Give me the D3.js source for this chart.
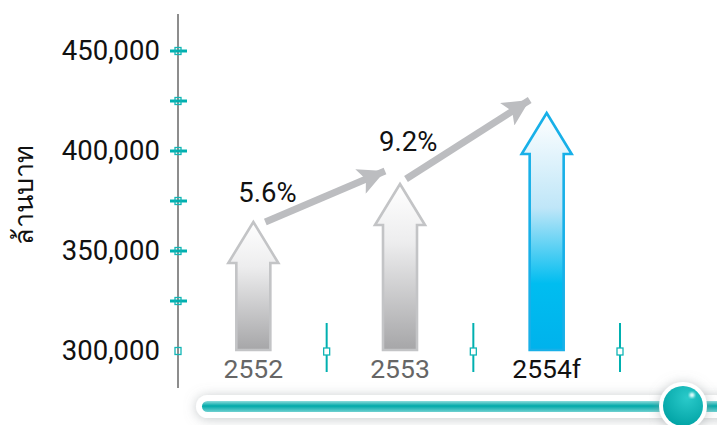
<!DOCTYPE html>
<html>
<head>
<meta charset="utf-8">
<script src="https://cdn.jsdelivr.net/npm/d3@7/dist/d3.min.js"></script>
<style>
  html, body { margin: 0; padding: 0; background: #ffffff; }
  svg { display: block; }
  text { font-family: Roboto, "Noto Sans", "DejaVu Sans", sans-serif; }
</style>
</head>
<body>
<svg id="chart" width="717" height="425"></svg>
<script>
// ---- data ----
const categories = ["2552", "2553", "2554f"];
const values = [364500, 383500, 419000];
const growthLabels = ["5.6%", "9.2%"];
const tickValues = [300000, 325000, 350000, 375000, 400000, 425000, 450000];
const labeledTicks = [300000, 350000, 400000, 450000];
const yAxisTitle = "ล้านบาท";

const svg = d3.select("#chart");

const y = d3.scaleLinear().domain([300000, 450000]).range([351, 51]);
const x = d3.scaleBand().domain(categories).range([180, 620]).padding(0);
const cx = d => x(d) + x.bandwidth() / 2;

const defs = svg.append("defs");
const gGray = defs.append("linearGradient").attr("id", "gGray").attr("x1", 0).attr("y1", 0).attr("x2", 0).attr("y2", 1);
gGray.append("stop").attr("offset", "0%").attr("stop-color", "#ffffff");
gGray.append("stop").attr("offset", "35%").attr("stop-color", "#ededee");
gGray.append("stop").attr("offset", "100%").attr("stop-color", "#a6a6a8");
const gBlue = defs.append("linearGradient").attr("id", "gBlue").attr("x1", 0).attr("y1", 0).attr("x2", 0).attr("y2", 1);
gBlue.append("stop").attr("offset", "0%").attr("stop-color", "#ffffff");
gBlue.append("stop").attr("offset", "40%").attr("stop-color", "#bfe6f8");
gBlue.append("stop").attr("offset", "72%").attr("stop-color", "#00bdf0");
gBlue.append("stop").attr("offset", "100%").attr("stop-color", "#00b2ec");
const gTrack = defs.append("linearGradient").attr("id", "gTrack").attr("x1", 0).attr("y1", 0).attr("x2", 0).attr("y2", 1);
gTrack.append("stop").attr("offset", "0%").attr("stop-color", "#8edcdc");
gTrack.append("stop").attr("offset", "45%").attr("stop-color", "#00a9a9");
gTrack.append("stop").attr("offset", "100%").attr("stop-color", "#6fd0d0");
const gKnob = defs.append("radialGradient").attr("id", "gKnob").attr("cx", "60%").attr("cy", "30%").attr("r", "75%");
gKnob.append("stop").attr("offset", "0%").attr("stop-color", "#2acaca");
gKnob.append("stop").attr("offset", "100%").attr("stop-color", "#00a2a4");
const shadow = defs.append("filter").attr("id", "shadow").attr("x", "-20%").attr("y", "-100%").attr("width", "140%").attr("height", "300%");
shadow.append("feDropShadow").attr("dx", 0).attr("dy", 1).attr("stdDeviation", 6)
  .attr("flood-color", "#8a9296").attr("flood-opacity", 0.5);
const blur = defs.append("filter").attr("id", "blur");
blur.append("feGaussianBlur").attr("stdDeviation", 1);
const mk = defs.append("marker").attr("id", "ah").attr("viewBox", "0 0 10 10")
  .attr("refX", 10).attr("refY", 5).attr("markerWidth", 6.2).attr("markerHeight", 3.8)
  .attr("markerUnits", "strokeWidth").attr("orient", "auto");
mk.append("path").attr("d", "M0,0 L10,5 L0,10 L2.2,5 Z").attr("fill", "#bcbdc0");

// ---- y axis ----
svg.append("line").attr("x1", 178).attr("x2", 178).attr("y1", 14).attr("y2", 388)
  .attr("stroke", "#8d8d8d").attr("stroke-width", 2);
const axis = d3.axisLeft(y).tickValues(labeledTicks).tickSize(0).tickPadding(18)
  .tickFormat(d3.format(","));
const ga = svg.append("g").attr("transform", "translate(178,0)").call(axis);
ga.select(".domain").remove();
ga.selectAll("text").attr("font-size", 27.5).attr("fill", "#111").attr("font-family", "Roboto, sans-serif");

const tk = svg.append("g");
tk.selectAll("line").data(tickValues.filter(v => v !== 300000)).join("line")
  .attr("x1", 170).attr("x2", 187).attr("y1", d => y(d)).attr("y2", d => y(d))
  .attr("stroke", "#00b0b0").attr("stroke-width", 3);
tk.selectAll("rect").data(tickValues).join("rect")
  .attr("x", 175).attr("y", d => y(d) - 3.5).attr("width", 6).attr("height", 7)
  .attr("fill", "none").attr("stroke", "#12b5b5").attr("stroke-width", 1.3);

svg.append("text").attr("transform", "translate(33,195) rotate(-90)")
  .attr("text-anchor", "middle").attr("font-size", 27).attr("fill", "#111")
  .attr("font-family", "'Noto Sans', 'DejaVu Sans', sans-serif")
  .text(yAxisTitle);

// ---- x ticks (band boundaries) ----
const bounds = categories.map(c => x(c) + x.bandwidth());
const xt = svg.append("g");
xt.selectAll("line").data(bounds).join("line")
  .attr("x1", d => d).attr("x2", d => d).attr("y1", 323).attr("y2", 372)
  .attr("stroke", "#00b0b0").attr("stroke-width", 2);
xt.selectAll("rect").data(bounds).join("rect")
  .attr("x", d => d - 3).attr("y", 348).attr("width", 6).attr("height", 7)
  .attr("fill", "#fff").attr("stroke", "#12b5b5").attr("stroke-width", 1.3);

// ---- arrow bars ----
const shaftHalf = 17, headHalf = 25, headH = 41;
function arrowPath(c, v) {
  const tip = y(v), base = y(300000) - 1, hb = tip + headH;
  return `M${c},${tip} L${c + headHalf},${hb} L${c + shaftHalf},${hb} L${c + shaftHalf},${base} ` +
         `L${c - shaftHalf},${base} L${c - shaftHalf},${hb} L${c - headHalf},${hb} Z`;
}
svg.append("g").selectAll("path").data(categories).join("path")
  .attr("d", (c, i) => arrowPath(cx(c), values[i]))
  .attr("fill", (c, i) => i === 2 ? "url(#gBlue)" : "url(#gGray)")
  .attr("stroke", (c, i) => i === 2 ? "#18b0e8" : "#c3c4c6")
  .attr("stroke-width", 2.6).attr("stroke-linejoin", "miter");

svg.append("g").selectAll("text").data(categories).join("text")
  .attr("x", c => cx(c)).attr("y", 378).attr("text-anchor", "middle")
  .attr("font-size", 26.5).attr("fill", (c, i) => i === 2 ? "#111" : "#666")
  .text(c => c);

// ---- growth arrows ----
const growth = growthLabels.map((g, i) => ({
  label: g,
  x1: cx(categories[i]) + (i === 0 ? 12 : 6), y1: y(values[i]) - (i === 0 ? 0 : 5),
  x2: cx(categories[i + 1]) - (i === 0 ? 15 : 17), y2: y(values[i + 1]) - 13
}));
svg.append("g").selectAll("line").data(growth).join("line")
  .attr("x1", d => d.x1).attr("y1", d => d.y1).attr("x2", d => d.x2).attr("y2", d => d.y2)
  .attr("stroke", "#bcbdc0").attr("stroke-width", 7).attr("marker-end", "url(#ah)");
svg.append("g").selectAll("text").data(growth).join("text")
  .attr("x", d => d.x1 - 27).attr("y", (d, i) => d.y1 - (i === 0 ? 20 : 28))
  .attr("font-size", 27.5).attr("fill", "#111").text(d => d.label);

// ---- slider ----
const sl = svg.append("g");
sl.append("rect").attr("x", 196).attr("y", 395).attr("width", 600).attr("height", 23).attr("rx", 11.5)
  .attr("fill", "#fff").attr("filter", "url(#shadow)");
sl.append("rect").attr("x", 202).attr("y", 401).attr("width", 590).attr("height", 11).attr("rx", 5.5)
  .attr("fill", "url(#gTrack)");
sl.append("circle").attr("cx", 683).attr("cy", 406).attr("r", 24).attr("fill", "#fff").attr("filter", "url(#shadow)");
sl.append("circle").attr("cx", 683).attr("cy", 406).attr("r", 20).attr("fill", "url(#gKnob)");
sl.append("circle").attr("cx", 692).attr("cy", 395).attr("r", 2.6).attr("fill", "#e8ffff").attr("filter", "url(#blur)");
</script>
</body>
</html>
